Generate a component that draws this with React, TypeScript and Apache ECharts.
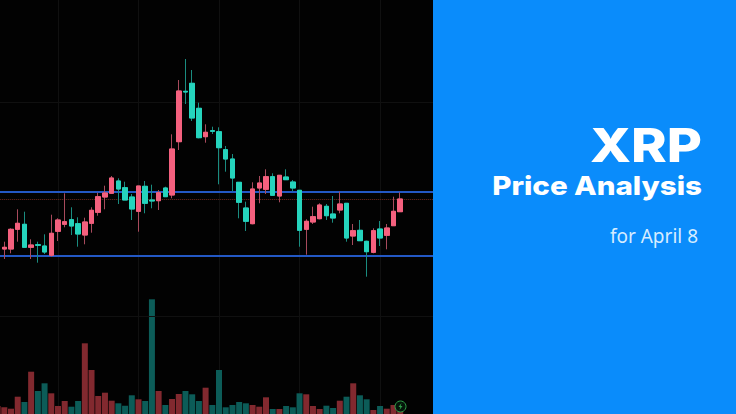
import React, { useEffect, useRef } from "react";
import * as echarts from "echarts";

// Candle readings, one entry per session (chart units).
const directions = "u u u u d u d d u u u d d u u u u u d d d u d d u d u u d d d u d d d d d d u u u d u d d d u u u d d u d u d d u d u u u".split(" ");
const highs = [164,172.3,185.7,204.7,202.3,174.7,172.3,179.7,199.3,195.7,220.7,206.7,196.7,196.3,206.7,221.3,228.3,238,235.7,232.3,220,228,233,229.3,224,227.3,279.7,334,355,344,311.3,289.7,287.3,286.7,268,260,231.7,212.3,231.7,238,244.7,240.7,238.7,244.7,234,223.7,194.7,207.3,210.7,210,218,222.3,210.7,190,194,173.3,185.7,193,190,217.3,221.7];
const bodyTops = [160.7,166.7,184.7,190.7,189.7,169,169.3,168,180.7,194,192.3,194.3,190.3,192,203.7,217.3,221,236,233,226.3,217,228,227.7,214,221.3,226,265,323,322.7,330.7,305.7,281.7,283.3,282.3,264.3,255,231.7,206,225,231,237.3,237.3,238.7,237,232,223.7,192.7,197.3,209,207.7,200,210,210.7,183.3,183.7,172.7,183.3,185,186,202.7,215];
const bodyBottoms = [159,165,165,184.7,166.7,166.7,168.7,162,158.7,182.7,189.7,188,180,179,190.7,201.7,217,220.7,225,214,205,202.7,210.7,213,213.3,217.3,219,272.3,322,296,276.3,277.3,282.7,266.3,255,236,211.7,192.7,190.3,226,224.7,218.7,218,234.3,226,183.7,184.7,192,195.3,198.3,196,204,176,178,173.3,162.3,161.7,176,178.7,188.3,202.3];
const lows = [154,155,160.7,172.3,166.7,155,151.3,160,157.3,173,186.7,179,167.3,169.7,181.3,198.3,204.7,220,210,214,194,182.3,200.7,205.7,204,217.3,215.7,264,310,293,275.7,271.3,280,229.7,242.3,222.7,195.7,183,189.7,210.7,220,218.3,211.7,234,222.7,167.3,159.3,190,194.7,194,191.3,200.7,172.3,169,173.3,137.3,160.7,168,164.7,188,202.3];
const volumes = [8,6.7,5.3,17.3,12,42.3,23,30.7,20.7,8,13,7.3,13,70.7,44,18,21.3,13.3,10.7,8.3,18.7,14.7,13,114.7,23,9,15,20,23,19.7,13,26.3,9,44,6.7,9,12,10.7,9,7.3,16.7,5,5,8,6.7,20.7,19.7,8,5,8.3,6,13.3,17.3,30.7,18.7,14.7,4,8,5.3,9,3];
const categories = Array.from({ length: 66 }, (_, i) => String(i + 1));

const zoneLevels = [222.7, 158.7];
const dottedLevel = 215;
const faintLevels = [312, 98];

const titleMain = "XRP";
const titleSub = "Price Analysis";
const titleDate = "for April 8";

const PINK = "#f4607e";
const TEAL = "#25d4bd";

export default function App() {
  const ref = useRef<HTMLDivElement>(null);
  useEffect(() => {
    const chart = echarts.init(ref.current!, null, { renderer: "svg" });
    const candleData = directions.map((d, i) =>
      d === "u"
        ? [bodyBottoms[i], bodyTops[i], lows[i], highs[i]]
        : [bodyTops[i], bodyBottoms[i], lows[i], highs[i]]
    );
    const bodyData = directions.map((d, i) =>
      d === "u"
        ? [bodyBottoms[i], bodyTops[i], bodyBottoms[i], bodyTops[i]]
        : [bodyTops[i], bodyBottoms[i], bodyBottoms[i], bodyTops[i]]
    );
    const xAxisBase = {
      type: "category" as const,
      data: categories,
      axisLine: { show: false },
      axisTick: { show: false },
      axisLabel: { show: false },
    };
    chart.setOption({
      animation: false,
      backgroundColor: "#020202",
      grid: [
        { left: -5.76, top: 0, width: 442.86, height: 414, outerBoundsMode: "none" },
        { left: -5.76, top: 276, width: 442.86, height: 138, outerBoundsMode: "none" },
      ],
      xAxis: [
        {
          ...xAxisBase,
          gridIndex: 0,
          splitLine: {
            show: true,
            alignWithLabel: true,
            interval: (i: number) => i >= 9 && (i - 9) % 12 === 0,
            lineStyle: { color: "#101010", width: 1 },
          },
        },
        { ...xAxisBase, gridIndex: 1, splitLine: { show: false } },
      ],
      yAxis: [
        { type: "value", gridIndex: 0, min: 0, max: 414, show: false },
        { type: "value", gridIndex: 1, min: 0, max: 138, show: false },
      ],
      series: [
        {
          type: "bar",
          xAxisIndex: 1,
          yAxisIndex: 1,
          barWidth: 6,
          z: 1,
          data: volumes.map((v, i) => ({
            value: v,
            itemStyle: { color: directions[i] === "u" ? "#82292f" : "#0c5c58" },
          })),
        },
        {
          type: "candlestick",
          xAxisIndex: 0,
          yAxisIndex: 0,
          barWidth: 5,
          z: 4,
          itemStyle: {
            color: "#a84a5c",
            color0: "#1a8c80",
            borderColor: "#a84a5c",
            borderColor0: "#1a8c80",
            borderWidth: 1,
          },
          data: candleData,
          markLine: {
            silent: true,
            symbol: "none",
            animation: false,
            z: 3,
            label: { show: false },
            data: [
              ...faintLevels.map((v) => ({
                yAxis: v,
                lineStyle: { color: "#101010", width: 1, type: "solid" },
              })),
              {
                yAxis: dottedLevel,
                lineStyle: { color: "#6e2c22", width: 1, type: "dotted" },
              },
              ...zoneLevels.map((v) => ({
                yAxis: v,
                lineStyle: { color: "#2358c4", width: 2, type: "solid" },
              })),
            ],
          },
        },
        {
          type: "candlestick",
          xAxisIndex: 0,
          yAxisIndex: 0,
          barWidth: 5,
          z: 5,
          itemStyle: {
            color: PINK,
            color0: TEAL,
            borderColor: PINK,
            borderColor0: TEAL,
            borderWidth: 1,
          },
          data: bodyData,
        },
      ],
      graphic: [
        { type: "circle", z: 50, shape: { cx: 400.5, cy: 406.5, r: 5.5 }, style: { fill: "#04140a", stroke: "#2f9e48", lineWidth: 1 } },
        { type: "polygon", z: 51, shape: { points: [[401.5, 403], [398.5, 407], [400.3, 407], [399.5, 410], [402.5, 406], [400.7, 406]] }, style: { fill: "#2f9e48" } },
        { type: "rect", z: 100, shape: { x: 433, y: 0, width: 303, height: 414 }, style: { fill: "#0a8cfb" } },
        { type: "text", z: 101, x: 702, y: 145, scaleX: 1.15, style: { x: 0, y: 0, text: titleMain, fill: "#ffffff", font: '800 47px Inter', textAlign: "right", textVerticalAlign: "middle" } },
        { type: "text", z: 101, x: 702, y: 186, scaleX: 1.135, style: { x: 0, y: 0, text: titleSub, fill: "#ffffff", font: '800 26px Inter', textAlign: "right", textVerticalAlign: "middle" } },
        { type: "text", z: 101, style: { x: 698, y: 236, text: titleDate, fill: "#d6ecff", font: '400 19px "Noto Sans"', textAlign: "right", textVerticalAlign: "middle" } },
      ],
    });
    return () => chart.dispose();
  }, []);
  return <div ref={ref} style={{ position: "fixed", left: 0, top: 0, width: 736, height: 414 }} />;
}
